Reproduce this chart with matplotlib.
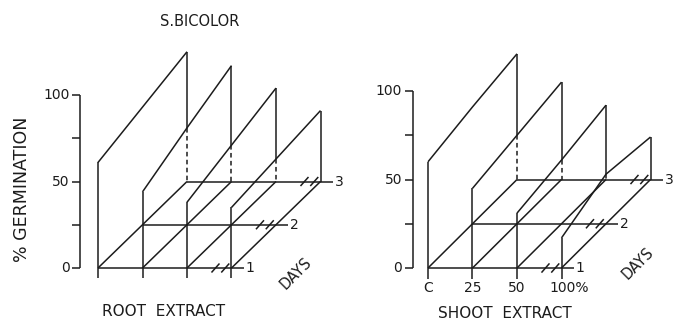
import matplotlib.pyplot as plt

# germination (%) on days 1-3 for each extract concentration
concentrations = ['C', '25', '50', '100%']
day_labels = ['1', '2', '3']

root_c = [61, 68, 75]
root_25 = [44, 56, 67]
root_50 = [38, 46, 54]
root_100 = [35, 38, 41]

shoot_c = [60, 66, 71]
shoot_25 = [45, 50, 55]
shoot_50 = [31, 36, 42]
shoot_100 = [17, 28, 24]

y_ticks = [0, 25, 50, 75, 100]
y_ticklabels = ['0', '', '50', '', '100']

# oblique projection: each day moves one column right and 25 % up
DEPTH = 25
INK = '#1c1c1c'
LW = 1.1

W, H = 675, 321
fig = plt.figure(figsize=(W / 100, H / 100), dpi=100)


def panel_axes(left, width, x0, col_px, base, pct_px):
    ax = fig.add_axes([left / W, 0, width / W, 1])
    ax.set_xlim((left - x0) / col_px, (left + width - x0) / col_px)
    ax.set_ylim((base - H) / pct_px, base / pct_px)
    ax.axis('off')
    return ax


def line(ax, xs, ys, ls='-'):
    ax.plot(xs, ys, color=INK, lw=LW, ls=ls, solid_capstyle='butt')


def draw_panel(ax, planes, axis_x, col_labels=None):
    n = len(planes)
    nd = len(planes[0])
    back = DEPTH * (nd - 1)

    # percent axis
    line(ax, [axis_x, axis_x], [0, 100])
    for t, lab in zip(y_ticks, y_ticklabels):
        line(ax, [axis_x - 0.18, axis_x], [t, t])
        if lab:
            ax.text(axis_x - 0.24, t, lab, ha='right', va='center',
                    fontsize=10, color=INK)

    # one vertical sheet per concentration
    for i, vals in enumerate(planes):
        xs = [i + d for d in range(nd)]
        ys = [v + DEPTH * d for d, v in enumerate(vals)]
        line(ax, [i, i], [-6, ys[0]])
        line(ax, xs, ys)
        line(ax, [i, xs[-1]], [0, back])
        if i < n - 1:
            # back edge hidden behind the next sheet
            cut = planes[i + 1][nd - 2] + DEPTH * (nd - 2)
            line(ax, [xs[-1], xs[-1]], [ys[-1], cut])
            line(ax, [xs[-1], xs[-1]], [cut, back], ls=(0, (3, 2.2)))
        else:
            line(ax, [xs[-1], xs[-1]], [ys[-1], back])

    # day rows with break marks
    for d in range(nd):
        y = DEPTH * d
        x_end = n - 1 + d
        line(ax, [d, x_end + 0.28], [y, y])
        for bx in (x_end - 0.36, x_end - 0.14):
            line(ax, [bx - 0.09, bx + 0.09], [y - 2.6, y + 2.6])
        ax.text(x_end + 0.32, y, day_labels[d], ha='left', va='center',
                fontsize=10, color=INK)

    if col_labels:
        for i, lab in enumerate(col_labels):
            x = i + (0.17 if lab.endswith('%') else 0)
            ax.text(x, -11.5, lab, ha='center', va='center',
                    fontsize=10, color=INK)


ax1 = panel_axes(0, 340, 98, 44.5, 268, 1.73)
draw_panel(ax1, [root_c, root_25, root_50, root_100], axis_x=-0.40)

ax2 = panel_axes(340, 335, 428, 44.5, 268, 1.77)
draw_panel(ax2, [shoot_c, shoot_25, shoot_50, shoot_100], axis_x=-0.34,
           col_labels=concentrations)


def ftext(x, y, s, **kw):
    fig.text(x / W, 1 - y / H, s, ha='center', va='center', color=INK, **kw)


ftext(200, 22, 'S.BICOLOR', fontsize=10.5)
ftext(22, 189, '% GERMINATION', fontsize=12.5, rotation=90)
ftext(164, 311, 'ROOT  EXTRACT', fontsize=11)
ftext(505, 313, 'SHOOT  EXTRACT', fontsize=11)
ftext(296, 273, 'DAYS', fontsize=10.5, rotation=45)
ftext(638, 263, 'DAYS', fontsize=10.5, rotation=45)

fig.savefig('out.png', dpi=100, facecolor='white')
